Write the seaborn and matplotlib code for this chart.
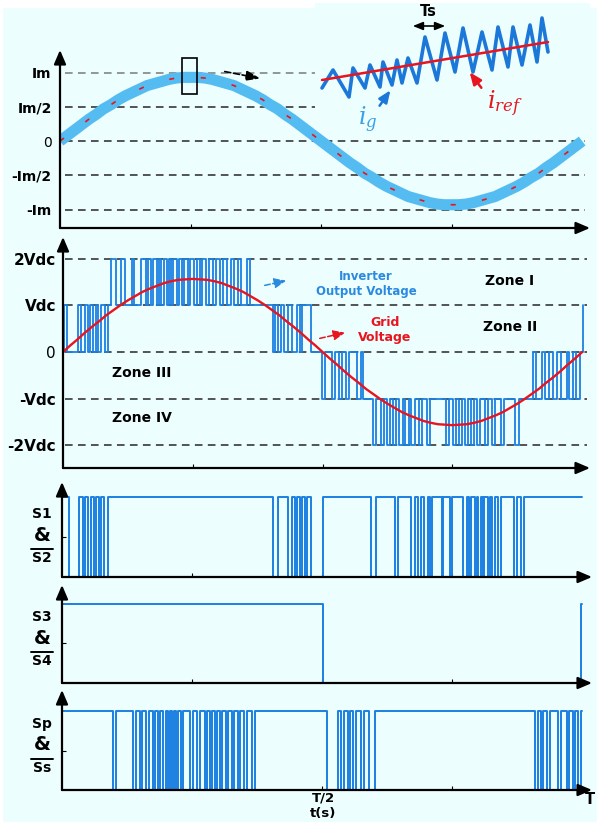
import matplotlib.pyplot as plt
import matplotlib.patches as mpatches
from matplotlib.lines import Line2D
import seaborn as sns

sns.set_theme(style="white")
plt.rcParams["font.family"] = ["DejaVu Sans"]
plt.rcParams["mathtext.fontset"] = "dejavuserif"
plt.rcParams["text.color"] = "black"
plt.rcParams["ytick.labelcolor"] = "black"

W, H = 597, 822
BG = "#ECFEFE"
BLUE = "#1B80E2"
LIGHT = "#55BCF2"
RED = "#E8141E"

# one grid period, T = 20 ms
T = 20.0
phase_deg = list(range(0, 361, 5))

# reference current (per Im) and grid voltage (per Vdc), read every 5 deg
i_ref = [0, 0.08, 0.16, 0.24, 0.32, 0.39, 0.47, 0.53, 0.60, 0.66, 0.71, 0.76, 0.81, 0.84,
         0.87, 0.90, 0.92, 0.93, 0.93,
         0.93, 0.92, 0.90, 0.87, 0.84, 0.81, 0.76, 0.71, 0.66, 0.60, 0.53, 0.47, 0.39, 0.32,
         0.24, 0.16, 0.08, 0,
         -0.08, -0.16, -0.24, -0.32, -0.39, -0.47, -0.53, -0.60, -0.66, -0.71, -0.76, -0.81,
         -0.84, -0.87, -0.90, -0.92, -0.93, -0.93,
         -0.93, -0.92, -0.90, -0.87, -0.84, -0.81, -0.76, -0.71, -0.66, -0.60, -0.53, -0.47,
         -0.39, -0.32, -0.24, -0.16, -0.08, 0]
v_grid = [0, 0.14, 0.27, 0.41, 0.54, 0.66, 0.79, 0.90, 1.01, 1.11, 1.20, 1.29, 1.36, 1.42,
          1.48, 1.52, 1.55, 1.56, 1.57,
          1.56, 1.55, 1.52, 1.48, 1.42, 1.36, 1.29, 1.20, 1.11, 1.01, 0.90, 0.79, 0.66, 0.54,
          0.41, 0.27, 0.14, 0,
          -0.14, -0.27, -0.41, -0.54, -0.66, -0.79, -0.90, -1.01, -1.11, -1.20, -1.29, -1.36,
          -1.42, -1.48, -1.52, -1.55, -1.56, -1.57,
          -1.56, -1.55, -1.52, -1.48, -1.42, -1.36, -1.29, -1.20, -1.11, -1.01, -0.90, -0.79,
          -0.66, -0.54, -0.41, -0.27, -0.14, 0]

# zoomed detail of i_g around the peak (arbitrary units)
zoom_t = [2, 13, 29, 33, 45, 50, 60, 63, 72, 77, 82, 88, 97, 105, 117, 125, 135, 143,
          153, 162, 172, 178, 188, 193, 202, 210, 217, 222, 228]
zoom_ig = [12, 30, 3, 32, 12, 35, 13, 38, 15, 40, 17, 42, 17, 63, 20, 67, 28, 72,
           28, 68, 30, 73, 33, 73, 35, 75, 38, 82, 48]
zoom_ref_t = [2, 228]
zoom_ref_i = [20, 58]

# inverter output voltage: (time ms, level in Vdc) at each switching edge
vo_edges = [
    (0, 0), (0.04, 1), (0.15, 0), (0.58, 1), (0.69, 0), (0.85, 1), (0.96, 0), (1.04, 1),
    (1.16, 0), (1.27, 1), (1.35, 0), (1.46, 1), (1.62, 0), (1.73, 1),
    (1.85, 2), (2.04, 1), (2.24, 2), (2.39, 1), (2.66, 2), (2.74, 1), (3.01, 2), (3.20, 1),
    (3.28, 2), (3.39, 1), (3.47, 2), (3.62, 1), (3.70, 2), (3.78, 1), (3.89, 2), (4.01, 1),
    (4.09, 2), (4.16, 1), (4.24, 2), (4.39, 1), (4.47, 2), (4.59, 1), (4.66, 2), (4.82, 1),
    (4.89, 2), (5.05, 1), (5.16, 2), (5.28, 1), (5.36, 2), (5.51, 1), (5.63, 2), (5.78, 1),
    (5.90, 2), (6.05, 1), (6.17, 2), (6.32, 1), (6.47, 2), (6.59, 1), (6.74, 2), (6.86, 1),
    (7.09, 2), (7.21, 1),
    (8.09, 0), (8.17, 1), (8.29, 0), (8.40, 1), (8.52, 0), (8.67, 1), (8.83, 0), (9.02, 1),
    (9.13, 0), (9.21, 1), (9.56, 0),
    (9.98, -1), (10.10, 0), (10.37, -1), (10.48, 0), (10.64, -1), (10.75, 0), (10.91, -1),
    (11.02, 0), (11.33, -1), (11.48, 0), (11.56, -1),
    (11.95, -2), (12.06, -1), (12.26, -2), (12.37, -1), (12.49, -2), (12.60, -1), (12.72, -2),
    (12.83, -1), (12.95, -2), (13.10, -1), (13.18, -2), (13.33, -1), (13.41, -2), (13.57, -1),
    (13.72, -2), (13.84, -1), (14.03, -2), (14.14, -1), (14.76, -2), (14.88, -1), (15.03, -2),
    (15.15, -1), (15.26, -2), (15.38, -1), (15.49, -2), (15.61, -1), (15.72, -2), (15.84, -1),
    (15.96, -2), (16.07, -1), (16.26, -2), (16.38, -1), (16.53, -2), (16.65, -1), (16.88, -2),
    (17.00, -1), (17.42, -2), (17.57, -1),
    (18.11, 0), (18.23, -1), (18.46, 0), (18.58, -1), (18.73, 0), (18.88, -1), (19.04, 0),
    (19.19, -1), (19.42, 0), (19.50, -1), (19.66, 0), (19.77, -1), (19.92, 0), (20.04, 1),
]

# gate signals: intervals (ms) where the signal is low
s12_low = [(0.27, 0.66), (0.81, 0.89), (1.00, 1.12), (1.23, 1.31), (1.43, 1.50), (1.62, 1.77),
           (8.13, 8.32), (8.71, 8.86), (8.98, 9.06), (9.17, 9.25), (9.36, 9.44), (9.60, 10.06),
           (11.91, 12.10), (12.83, 12.95), (13.45, 13.57), (13.72, 13.80), (13.95, 14.07),
           (14.18, 14.26), (14.61, 14.68), (14.95, 15.03), (15.45, 15.57), (15.68, 15.76),
           (15.88, 15.96), (16.03, 16.11), (16.19, 16.26), (16.38, 16.46), (16.57, 16.65),
           (16.80, 16.88), (17.38, 17.50), (17.65, 17.77)]
s34_low = [(10.04, 19.98)]
sps_low = [(1.97, 2.08), (2.74, 2.85), (3.01, 3.08), (3.24, 3.35), (3.51, 3.58), (3.70, 3.78),
           (3.89, 4.01), (4.09, 4.16), (4.24, 4.32), (4.39, 4.47), (4.59, 4.66), (4.93, 5.05),
           (5.20, 5.32), (5.51, 5.59), (5.70, 5.78), (5.90, 5.97), (6.09, 6.17), (6.32, 6.40),
           (6.55, 6.63), (6.78, 6.86), (7.01, 7.13), (7.32, 7.44),
           (10.21, 10.64), (10.75, 10.87), (11.02, 11.10), (11.21, 11.33), (11.52, 11.64),
           (11.83, 12.06),
           (18.19, 18.31), (18.42, 18.50), (18.65, 18.77), (19.08, 19.19), (19.42, 19.50),
           (19.66, 19.73), (19.85, 19.96)]


def pulses(lows, end=T):
    t, v = [0.0], [1]
    for a, b in lows:
        t += [a, b]
        v += [0, 1]
    t.append(end)
    v.append(1)
    return t, v


fig = plt.figure(figsize=(W / 100, H / 100), dpi=100)
fig.patch.set_facecolor("white")
fig.add_artist(mpatches.Rectangle((3 / W, 0), 1, 1 - 8 / H, transform=fig.transFigure,
                                  facecolor=BG, edgecolor="none", zorder=-10))


def ftext(x, y, s, **kw):
    kw.setdefault("ha", "center")
    kw.setdefault("va", "center")
    kw.setdefault("fontweight", "bold")
    fig.text(x / W, 1 - y / H, s, **kw)


def farrow(x1, y1, x2, y2, **kw):
    fig.axes[0].annotate("", xy=(x2, H - y2), xytext=(x1, H - y1), xycoords="figure pixels",
                         textcoords="figure pixels", arrowprops=kw, annotation_clip=False)


def panel(l, t, r, b, xmax, ylim):
    ax = fig.add_axes([l / W, 1 - b / H, (r - l) / W, (b - t) / H])
    ax.set_facecolor("none")
    for s in ax.spines.values():
        s.set_visible(False)
    ax.set_xlim(0, xmax)
    ax.set_ylim(*ylim)
    ax.set_xticks([5, 10, 15])
    ax.set_xticklabels([])
    ax.tick_params(axis="x", direction="in", length=3, width=0.8, color="black", bottom=True)
    arr = dict(arrowstyle="-|>,head_length=0.7,head_width=0.3", lw=1.6, color="black",
               shrinkA=0, shrinkB=0)
    ax.annotate("", xy=(0, 1), xytext=(0, 0), xycoords="axes fraction",
                arrowprops=arr, annotation_clip=False, zorder=6)
    ax.annotate("", xy=(1, 0), xytext=(0, 0), xycoords="axes fraction",
                arrowprops=arr, annotation_clip=False, zorder=6)
    return ax


dash = (0, (5, 3.5))
t_wave = [d / 360 * T for d in phase_deg]

# ---- panel 1: grid current
ax1 = panel(60, 50, 590, 228, 20.3, (-1.27, 1.33))
ax1.hlines([1], 0.2, 20.1, colors="#7a7a7a", linestyles=dash, lw=1.1)
ax1.hlines([0.5, 0, -0.5, -1], 0.2, 20.1, colors="#262626", linestyles=dash, lw=1.1)
sns.lineplot(x=t_wave, y=i_ref, ax=ax1, color=LIGHT, lw=8, estimator=None, sort=False,
             solid_capstyle="butt")
sns.lineplot(x=t_wave, y=i_ref, ax=ax1, color=RED, lw=1.2, estimator=None, sort=False,
             linestyle=(0, (3, 16)))
ax1.set_yticks([1, 0.5, 0, -0.5, -1])
ax1.set_yticklabels(["Im", "Im/2", "0", "-Im/2", "-Im"], fontsize=10, fontweight="bold")
ax1.get_yticklabels()[2].set_fontweight("normal")
ax1.tick_params(axis="y", length=0, pad=6)
ax1.add_patch(mpatches.Rectangle((4.67, 0.69), 0.58, 0.52, fill=False, edgecolor="black",
                                 lw=1.2, zorder=7))

# inset with the zoomed ripple
axi = fig.add_axes([315 / W, 1 - 118 / H, 275 / W, 115 / H])
axi.set_facecolor(BG)
for s in axi.spines.values():
    s.set_visible(False)
axi.set_xticks([])
axi.set_yticks([])
axi.set_xlim(-5, 270)
axi.set_ylim(-18, 97)
sns.lineplot(x=zoom_t, y=zoom_ig, ax=axi, color="#1C78D8", lw=2.6, estimator=None, sort=False,
             solid_joinstyle="round")
sns.lineplot(x=zoom_ref_t, y=zoom_ref_i, ax=axi, color=RED, lw=1.8, estimator=None, sort=False)
axi.annotate("", xy=(128, 74), xytext=(90, 74),
             arrowprops=dict(arrowstyle="<|-|>,head_length=0.5,head_width=0.2", lw=1.2, color="black"))
axi.text(108, 88, "Ts", ha="center", va="center", fontsize=10.5, fontweight="bold")
axi.annotate("", xy=(72, 12), xytext=(58, -8),
             arrowprops=dict(arrowstyle="-|>,head_length=0.6,head_width=0.25", lw=1.8, color="#1C78D8"))
axi.annotate("", xy=(148, 30), xytext=(163, 10),
             arrowprops=dict(arrowstyle="-|>,head_length=0.6,head_width=0.25", lw=1.8, color=RED))
ftext(368, 120, r"$i_g$", color="#3AA0E8", fontsize=17, fontweight="normal")
ftext(505, 104, r"$i_{ref}$", color=RED, fontsize=17, fontweight="normal")

# ---- panel 2: inverter and grid voltage
ax2 = panel(63, 237, 590, 468, 20.3, (-2.49, 2.47))
ax2.hlines([2, 1, 0, -1, -2], 0.08, 20.2, colors="#262626", linestyles=dash, lw=1.1)
vo_t = [e[0] for e in vo_edges]
vo_v = [e[1] for e in vo_edges]
sns.lineplot(x=vo_t, y=vo_v, ax=ax2, color=BLUE, lw=1.3, estimator=None, sort=False,
             drawstyle="steps-post")
sns.lineplot(x=t_wave, y=v_grid, ax=ax2, color=RED, lw=1.7, estimator=None, sort=False)
ax2.set_yticks([2, 1, 0, -1, -2])
ax2.set_yticklabels(["2Vdc", "Vdc", "0", "-Vdc", "-2Vdc"], fontsize=11, fontweight="bold")
ax2.get_yticklabels()[2].set_fontweight("normal")
ax2.tick_params(axis="y", length=0, pad=5)

# ---- panels 3-5: gate signals
ax3 = panel(62, 482, 592, 577, 20.4, (0, 1.19))
ax4 = panel(62, 585, 592, 683, 20.4, (0, 1.24))
ax5 = panel(62, 690, 592, 790, 20.4, (0, 1.27))
for ax, lows in [(ax3, s12_low), (ax4, s34_low), (ax5, sps_low)]:
    st, sv = pulses(lows)
    sns.lineplot(x=st, y=sv, ax=ax, color=BLUE, lw=1.4, estimator=None, sort=False,
                 drawstyle="steps-post", clip_on=False)
    ax.set_yticks([0.5])
    ax.set_yticklabels([])
    ax.tick_params(axis="y", direction="in", length=3, width=0.8, color="black", left=True)

# annotations
farrow(222, 71, 263, 79, arrowstyle="-|>,head_length=0.7,head_width=0.25", lw=1.2,
       color="black", linestyle="--")
ftext(366, 284, "Inverter\nOutput Voltage", color="#2A8AE0", fontsize=8.5, linespacing=1.15)
farrow(262, 286, 289, 280, arrowstyle="-|>,head_length=0.6,head_width=0.25", lw=1.1,
       color="#2A8AE0", linestyle="--")
ftext(385, 330, "Grid\nVoltage", color=RED, fontsize=9, linespacing=1.15)
farrow(317, 339, 348, 332, arrowstyle="-|>,head_length=0.6,head_width=0.25", lw=1.1,
       color=RED, linestyle="--")
ftext(510, 281, "Zone I", fontsize=10)
ftext(510, 327, "Zone II", fontsize=10)
ftext(142, 373, "Zone III", fontsize=10)
ftext(142, 418, "Zone IV", fontsize=10)

for top, mid, bot, y0 in [("S1", "&", "S2", 514), ("S3", "&", "S4", 617), ("Sp", "&", "Ss", 724)]:
    ftext(42, y0, top, fontsize=10)
    ftext(42, y0 + 21, mid, fontsize=14)
    ftext(42, y0 + 44, bot, fontsize=10)
    fig.add_artist(Line2D([31 / W, 53 / W], [1 - (y0 + 35) / H] * 2, transform=fig.transFigure,
                          color="black", lw=1.4))

ftext(323, 798, "T/2", fontsize=9.5)
ftext(323, 813.5, "t(s)", fontsize=9.5)
ftext(590, 799, "T", fontsize=10.5)

fig.savefig("out.png", dpi=100, facecolor=fig.get_facecolor())
